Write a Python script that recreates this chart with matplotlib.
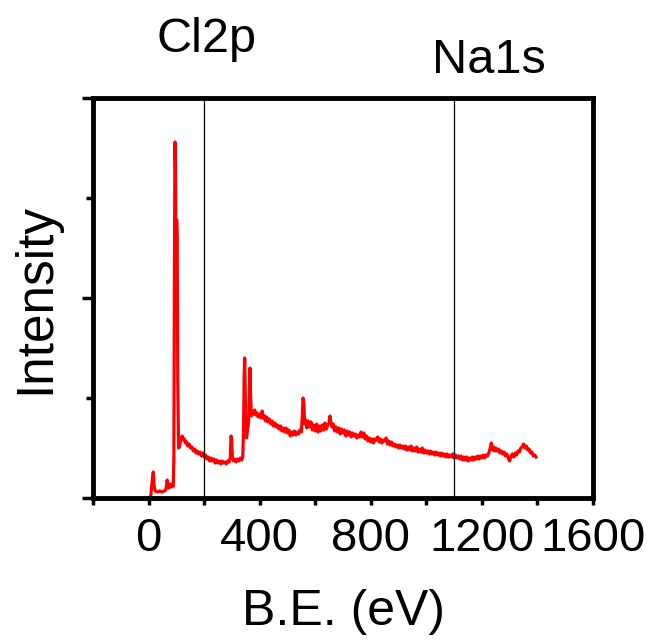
import matplotlib
matplotlib.use('Agg')
import matplotlib.pyplot as plt
from matplotlib.ticker import MultipleLocator

plt.rcParams['font.family'] = ['Liberation Sans', 'DejaVu Sans']

# survey spectrum (binding energy in eV, intensity in a.u.)
be = [0, 8, 14, 17, 20, 24, 32, 40, 48, 56, 62, 67, 71, 74, 79, 84, 89, 91, 93, 95,
      97, 99, 101, 103, 105, 108, 112, 115, 118, 121, 125, 129, 133, 137, 141, 146, 151, 156, 161, 166,
      171, 175, 180, 185, 190, 195, 200, 205, 210, 215, 220, 225, 230, 235, 240, 245, 250, 255, 260, 265,
      270, 275, 280, 285, 290, 294, 297, 299, 302, 306, 310, 315, 320, 325, 330, 335, 339, 342, 344, 346,
      348, 350, 353, 356, 360, 363, 365, 367, 370, 374, 378, 382, 386, 390, 395, 400, 405, 409, 413, 417,
      421, 425, 430, 435, 440, 445, 450, 455, 460, 465, 470, 475, 480, 485, 490, 495, 500, 505, 510, 515,
      520, 525, 530, 535, 540, 545, 550, 553, 556, 559, 562, 566, 570, 575, 580, 585, 590, 595, 600, 605,
      610, 615, 620, 625, 630, 635, 640, 645, 650, 653, 657, 661, 665, 670, 675, 680, 685, 690, 695, 700,
      705, 710, 715, 720, 725, 730, 735, 740, 745, 750, 755, 760, 765, 770, 775, 780, 785, 790, 795, 800,
      805, 810, 815, 820, 825, 830, 835, 840, 845, 850, 855, 860, 865, 870, 875, 880, 885, 890, 895, 900,
      905, 910, 915, 920, 925, 930, 935, 940, 945, 950, 955, 960, 965, 970, 975, 980, 985, 990, 995, 1000,
      1005, 1010, 1015, 1020, 1025, 1030, 1035, 1040, 1045, 1050, 1055, 1060, 1065, 1070, 1075, 1080, 1085, 1090, 1095, 1100,
      1105, 1110, 1115, 1120, 1125, 1130, 1135, 1140, 1145, 1150, 1155, 1160, 1165, 1170, 1175, 1180, 1185, 1190, 1195, 1200,
      1205, 1210, 1215, 1220, 1225, 1230, 1234, 1238, 1242, 1246, 1250, 1255, 1260, 1265, 1270, 1275, 1280, 1285, 1290, 1295,
      1300, 1305, 1310, 1315, 1320, 1325, 1330, 1335, 1340, 1345, 1350, 1355, 1360, 1365, 1370, 1375, 1380, 1385, 1390, 1395]
intensity = [0.00, 0.02, 0.20, 0.26, 0.12, 0.07, 0.06, 0.07, 0.06, 0.07, 0.08, 0.18, 0.11, 0.10, 0.14, 0.11, 0.12, 0.40, 2.20, 3.56,
             3.30, 2.00, 2.78, 2.60, 1.20, 0.50, 0.52, 0.58, 0.60, 0.62, 0.58, 0.59, 0.55, 0.56, 0.52, 0.54, 0.50, 0.51, 0.47, 0.49,
             0.45, 0.47, 0.44, 0.46, 0.42, 0.45, 0.41, 0.43, 0.39, 0.41, 0.37, 0.40, 0.37, 0.39, 0.35, 0.38, 0.35, 0.37, 0.34, 0.37,
             0.35, 0.36, 0.34, 0.37, 0.36, 0.40, 0.62, 0.58, 0.40, 0.37, 0.39, 0.36, 0.39, 0.37, 0.40, 0.38, 0.41, 0.70, 1.20, 1.40,
             1.05, 0.62, 0.60, 0.68, 0.75, 1.10, 1.30, 1.05, 0.82, 0.86, 0.84, 0.88, 0.83, 0.85, 0.81, 0.84, 0.80, 0.87, 0.80, 0.82,
             0.77, 0.81, 0.76, 0.79, 0.74, 0.77, 0.72, 0.75, 0.71, 0.73, 0.69, 0.72, 0.67, 0.70, 0.66, 0.70, 0.65, 0.68, 0.62, 0.66,
             0.63, 0.67, 0.63, 0.66, 0.64, 0.68, 0.66, 0.80, 1.00, 0.95, 0.74, 0.78, 0.70, 0.77, 0.71, 0.76, 0.68, 0.73, 0.67, 0.74,
             0.66, 0.72, 0.67, 0.73, 0.68, 0.75, 0.69, 0.73, 0.75, 0.82, 0.74, 0.71, 0.74, 0.67, 0.71, 0.66, 0.70, 0.64, 0.69, 0.65,
             0.68, 0.62, 0.67, 0.63, 0.66, 0.61, 0.65, 0.62, 0.64, 0.60, 0.63, 0.61, 0.66, 0.61, 0.65, 0.59, 0.62, 0.57, 0.60, 0.56,
             0.59, 0.55, 0.59, 0.58, 0.61, 0.56, 0.59, 0.55, 0.58, 0.57, 0.60, 0.54, 0.57, 0.53, 0.56, 0.52, 0.54, 0.51, 0.53, 0.50,
             0.53, 0.50, 0.52, 0.49, 0.52, 0.48, 0.51, 0.48, 0.52, 0.47, 0.50, 0.47, 0.51, 0.46, 0.49, 0.46, 0.50, 0.45, 0.48, 0.45,
             0.47, 0.44, 0.47, 0.44, 0.46, 0.43, 0.46, 0.43, 0.45, 0.42, 0.45, 0.42, 0.44, 0.41, 0.44, 0.41, 0.43, 0.41, 0.44, 0.40,
             0.43, 0.40, 0.42, 0.39, 0.42, 0.38, 0.41, 0.38, 0.41, 0.37, 0.40, 0.38, 0.41, 0.38, 0.41, 0.39, 0.42, 0.39, 0.42, 0.40,
             0.43, 0.40, 0.43, 0.42, 0.45, 0.50, 0.55, 0.48, 0.51, 0.47, 0.50, 0.47, 0.49, 0.45, 0.47, 0.44, 0.46, 0.42, 0.44, 0.40,
             0.37, 0.42, 0.44, 0.41, 0.45, 0.43, 0.47, 0.46, 0.50, 0.51, 0.54, 0.50, 0.52, 0.48, 0.49, 0.45, 0.46, 0.42, 0.43, 0.41]

# marker lines and their labels
peak_names = ['Cl2p', 'Na1s']
peak_pos = [200, 1100]
label_x = [208, 1224]
label_y = [4.46, 4.25]

fig = plt.figure(figsize=(6.51, 6.41), dpi=100)
ax = fig.add_axes([0.1429, 0.2231, 0.768, 0.624])

ax.plot(be, intensity, color='#ff0000', lw=2.3)
for p in peak_pos:
    ax.axvline(p, color='black', lw=0.9)
for name, x, y in zip(peak_names, label_x, label_y):
    ax.text(x, y, name, ha='center', va='baseline', fontsize=35, clip_on=False)

ax.set_xlim(-200, 1600)
ax.set_ylim(0, 4)
ax.xaxis.set_major_locator(MultipleLocator(400))
ax.xaxis.set_minor_locator(MultipleLocator(200))
ax.yaxis.set_major_locator(MultipleLocator(2))
ax.yaxis.set_minor_locator(MultipleLocator(1))
ax.set_yticklabels([])

for s in ax.spines.values():
    s.set_linewidth(3.5)
ax.tick_params(axis='x', which='both', direction='out', length=5, width=2.5, labelsize=34, pad=9)
ax.tick_params(axis='y', which='major', direction='out', length=8, width=2.5)
ax.tick_params(axis='y', which='minor', direction='out', length=5, width=2.5)

ax.set_xlabel('B.E. (eV)', fontsize=36, labelpad=20)
ax.set_ylabel('Intensity', fontsize=37, labelpad=12)

plt.savefig('out.png', dpi=100)
plt.close()
